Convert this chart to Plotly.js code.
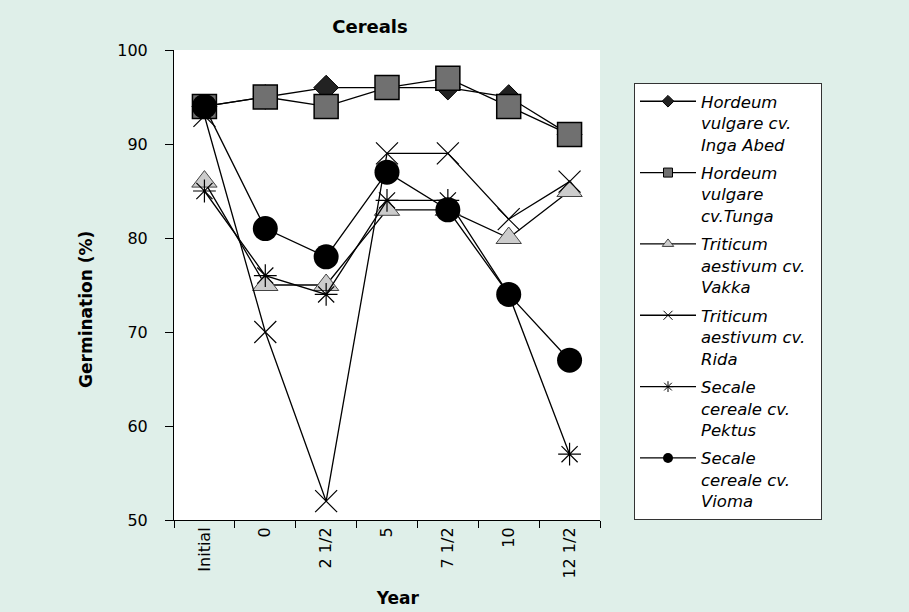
<!DOCTYPE html>
<html>
<head>
<meta charset="utf-8">
<script src="https://cdn.plot.ly/plotly-3.0.1.min.js"></script>
<style>html,body{margin:0;padding:0;background:#dfefe9;}#chart{width:909px;height:612px;}</style>
</head>
<body>
<div id="chart"></div>
<script>
var years = ["Initial", "0", "2 1/2", "5", "7 1/2", "10", "12 1/2"];
var seriesNames = [
  "<i>Hordeum<br>vulgare cv.<br>Inga Abed</i>",
  "<i>Hordeum<br>vulgare<br>cv.Tunga</i>",
  "<i>Triticum<br>aestivum cv.&nbsp;&nbsp;<br>Vakka</i>",
  "<i>Triticum<br>aestivum cv.<br>Rida</i>",
  "<i>Secale<br>cereale cv.<br>Pektus</i>",
  "<i>Secale<br>cereale cv.<br>Vioma</i>"
];
var ingaAbed = [94, 95, 96, 96, 96, 95, 91];
var tunga    = [94, 95, 94, 96, 97, 94, 91];
var vakka    = [86, 75, 75, 83, 83, 80, 85];
var rida     = [93, 70, 52, 89, 89, 82, 86];
var pektus   = [85, 76, 74, 84, 84, 74, 57];
var vioma    = [94, 81, 78, 87, 83, 74, 67];

var values = [ingaAbed, tunga, vakka, rida, pektus, vioma];
var symbols = ["diamond", "square", "triangle-up", "x-thin", "asterisk", "circle"];
var fills = ["#222222", "#707070", "#cccccc", "#000000", "#000000", "#000000"];
var outlines = ["#000000", "#000000", "#444444", "#000000", "#000000", "#000000"];
var plotSizes = [19, 24, 22, 22, 19, 25];
var plotOutlineW = [1, 1.5, 1, 1.2, 1.2, 0];
var legendSizes = [9, 9, 10, 9, 9, 10];
var legendOutlineW = [1, 1, 1, 1, 1, 0];

var traces = [];
values.forEach(function (v, i) {
  traces.push({
    type: "scatter",
    mode: "lines+markers",
    x: years,
    y: v,
    name: seriesNames[i],
    legendgroup: "g" + i,
    showlegend: false,
    line: {color: "#000000", width: 1.3},
    marker: {symbol: symbols[i], size: plotSizes[i], color: fills[i],
             line: {color: outlines[i], width: plotOutlineW[i]}},
    cliponaxis: false
  });
});
// legend entries (same series, legend-sized symbols, no points drawn)
values.forEach(function (v, i) {
  traces.push({
    type: "scatter",
    mode: "lines+markers",
    x: years,
    y: v.map(function () { return null; }),
    name: seriesNames[i],
    legendgroup: "g" + i,
    showlegend: true,
    line: {color: "#000000", width: 1.3},
    marker: {symbol: symbols[i], size: legendSizes[i], color: fills[i],
             line: {color: outlines[i], width: legendOutlineW[i]}}
  });
});

var sp = function (n) { return new Array(n + 1).join("&nbsp;"); };

var layout = {
  width: 909,
  height: 612,
  paper_bgcolor: "#dfefe9",
  plot_bgcolor: "#ffffff",
  font: {family: "'DejaVu Sans', sans-serif", color: "#000000", size: 16},
  margin: {l: 174, r: 309, t: 50, b: 92, pad: 0},
  title: {
    text: "<b>Cereals</b>",
    font: {size: 18},
    x: 370 / 909, xanchor: "center",
    y: 1 - 27 / 612, yanchor: "middle"
  },
  showlegend: true,
  legend: {
    x: (634 - 174) / 426, xanchor: "left",
    y: 1 + (50 - 83) / 470, yanchor: "top",
    bgcolor: "#ffffff",
    bordercolor: "#333333",
    borderwidth: 1,
    font: {size: 16.5},
    valign: "top",
    itemwidth: 56,
    tracegroupgap: 4
  },
  xaxis: {
    type: "category",
    range: [-0.5, 6.5],
    tickson: "boundaries",
    ticks: "outside",
    ticklen: 7,
    tickcolor: "#000000",
    tickangle: -90,
    showline: true,
    linecolor: "#000000",
    linewidth: 1,
    showgrid: false,
    zeroline: false,
    title: {text: sp(4) + "<b>Year</b>", font: {size: 17}, standoff: 14}
  },
  yaxis: {
    range: [50, 100],
    dtick: 10,
    ticks: "outside",
    ticklen: 8,
    tickcolor: "#000000",
    showline: true,
    linecolor: "#000000",
    linewidth: 1,
    showgrid: false,
    zeroline: false,
    ticklabelstandoff: 14,
    title: {text: "<b>Germination (%)</b>" + sp(9), font: {size: 17}, standoff: 20}
  }
};

Plotly.newPlot("chart", traces, layout, {displayModeBar: false, staticPlot: true});
</script>
</body>
</html>
